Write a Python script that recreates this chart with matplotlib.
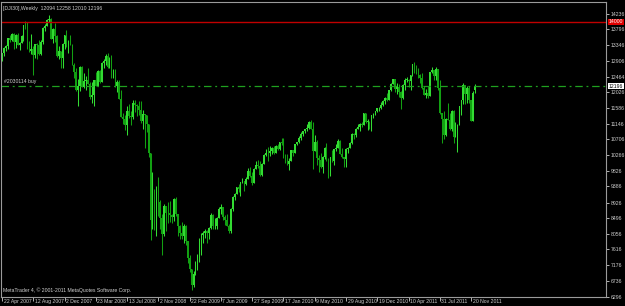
import matplotlib
matplotlib.use("Agg")
import matplotlib.pyplot as plt
import matplotlib.transforms as mtransforms

plt.rcParams["font.family"] = ["Liberation Sans", "DejaVu Sans"]

# weekly DJI30 bars, 22 Apr 2007 .. 4 Dec 2011
week_open = [
    12961, 13120, 13264, 13326, 13556, 13507, 13668, 13424, 13639, 13360,
    13408, 13611, 13907, 13851, 13265, 13182, 13239, 13079, 13379, 13358,
    13113, 13442, 13820, 13896, 14066, 14093, 13522, 13807, 13595, 13042,
    13176, 12981, 13372, 13625, 13339, 13450, 13366,
    12800, 12606, 12099, 12207, 12743, 12183, 12348, 12381, 12266, 11894,
    11951, 12361, 12216, 12610, 12325, 12849, 12892, 13058, 12745, 12986,
    12480, 12638, 12210, 12307, 11843, 11346, 11288, 11100, 11496, 11370,
    11326, 11734, 11659, 11628, 11543, 11220, 11421, 11388, 11143, 10325,
    8451, 8852, 8378, 9325, 8943, 8497, 8046, 8829, 8635, 8629,
    8579, 8515,
    9034, 8599, 8281, 8077, 8000, 8280, 7850, 7366, 7063, 6627,
    6930, 7224, 7278, 7776, 8018, 8083, 8131, 8076, 8212, 8575,
    8268, 8278, 8500, 8764, 8799, 8539, 8438, 8280, 8146, 8743,
    9093, 9172, 9370, 9321, 9505, 9544, 9441, 9605, 9820, 9665,
    9487, 9865, 9995, 9972, 9713, 10023, 10270, 10318, 10310, 10388,
    10471, 10329, 10520,
    10428, 10618, 10610, 10173, 10067, 10012, 10099, 10402, 10325, 10567,
    10625, 10742, 10850, 10927, 10997, 11019, 11204, 11009, 10380, 10620,
    10193, 10137, 9931, 10212, 10450, 10144, 9686, 10198, 10098, 10425,
    10466, 10654, 10303, 10213, 10150, 10448, 10463, 10607, 10860, 10829,
    11006, 11063, 11133, 11118, 11445, 11192, 11204, 11092, 11382, 11410,
    11492, 11573,
    11578, 11675, 11787, 11871, 11824, 12092, 12273, 12391, 12130, 12170,
    12044, 11858, 12221, 12376, 12380, 12342, 12505, 12811, 12638, 12596,
    12512, 12441, 12151, 11952, 12004, 11934, 12582, 12657, 12480, 12681,
    12143, 11445, 11270, 10818, 11285, 11240, 10992, 11510, 10772, 10913,
    11103, 11644, 11809, 12231, 11983, 12153, 11796, 11231, 12094,
]
week_high = [
    13140, 13284, 13362, 13560, 13633, 13692, 13692, 13660, 13700, 13450,
    13640, 13915, 14022, 14000, 13470, 13660, 13320, 13390, 13400, 13490,
    13480, 13870, 13940, 14080, 14198, 14120, 13830, 13980, 13630, 13320,
    13180, 13400, 13640, 13780, 13480, 13630, 13380,
    12860, 12700, 12400, 12770, 12760, 12560, 12470, 12700, 12310, 12320,
    12380, 12600, 12660, 12650, 12890, 12950, 13100, 13136, 13030, 13060,
    12680, 12680, 12360, 12380, 12080, 11440, 11400, 11630, 11700, 11500,
    11810, 11800, 11700, 11790, 11790, 11530, 11430, 11400, 11143, 10330,
    9800, 9300, 9400, 9650, 9000, 8600, 8880, 8830, 8950, 8970,
    8600, 9060,
    9090, 8620, 8290, 8400, 8320, 8310, 7860, 7460, 7070, 7000,
    7280, 7500, 7930, 8080, 8140, 8190, 8150, 8260, 8650, 8600,
    8500, 8530, 8820, 8880, 8800, 8580, 8600, 8330, 8770, 9110,
    9190, 9380, 9440, 9520, 9620, 9550, 9640, 9890, 9920, 9790,
    9890, 10100, 10120, 10090, 10050, 10300, 10440, 10500, 10520, 10500,
    10520, 10550, 10580,
    10640, 10730, 10730, 10290, 10300, 10170, 10420, 10410, 10570, 10640,
    10790, 10900, 10930, 11010, 11150, 11210, 11260, 11200, 10840, 10680,
    10280, 10320, 10250, 10480, 10590, 10170, 10210, 10400, 10440, 10580,
    10720, 10700, 10460, 10220, 10470, 10490, 10640, 10870, 10880, 11030,
    11150, 11170, 11190, 11450, 11450, 11270, 11210, 11390, 11450, 11500,
    11580, 11600,
    11740, 11800, 11900, 12020, 12100, 12280, 12400, 12400, 12290, 12260,
    12060, 12270, 12420, 12450, 12400, 12520, 12820, 12876, 12780, 12700,
    12530, 12570, 12200, 12120, 12190, 12600, 12750, 12660, 12750, 12690,
    12370, 11450, 11500, 11300, 11720, 11450, 11520, 11520, 11200, 11140,
    11650, 11810, 12290, 12240, 12200, 12200, 11800, 12050, 12258,
]
week_low = [
    12900, 13050, 13180, 13250, 13430, 13470, 13250, 13260, 13350, 13200,
    13400, 13470, 13810, 13240, 13150, 13100, 12518, 12980, 12960, 13080,
    13060, 13380, 13750, 13880, 13990, 13510, 13400, 13440, 13030, 12960,
    12720, 12720, 13250, 13300, 13140, 13360, 12790,
    12420, 12050, 11630, 12070, 12180, 12150, 12100, 12260, 11850, 11730,
    11650, 12200, 12200, 12300, 12320, 12710, 12780, 12700, 12700, 12440,
    12420, 12180, 12030, 11830, 11340, 11130, 10960, 10830, 11300, 11100,
    11280, 11480, 11360, 11380, 11160, 11000, 10460, 10900, 10200, 7880,
    8200, 8170, 8000, 8560, 8200, 7450, 7990, 8140, 8350, 8400,
    8370, 8420,
    8560, 8000, 7910, 7920, 7810, 7740, 7250, 6990, 6470, 6550,
    6900, 7040, 7270, 7450, 7800, 7930, 7800, 7900, 8200, 8200,
    8200, 8200, 8500, 8600, 8450, 8300, 8270, 8090, 8080, 8700,
    9010, 9160, 9230, 9130, 9470, 9250, 9430, 9580, 9660, 9430,
    9480, 9860, 9900, 9680, 9680, 10020, 10250, 10100, 10240, 10290,
    10300, 10320, 10420,
    10420, 10560, 10170, 10030, 9990, 9840, 10090, 10230, 10320, 10540,
    10600, 10700, 10800, 10890, 10950, 11000, 10990, 9870, 10370, 9990,
    9780, 9900, 9760, 10150, 10100, 9610, 9680, 10080, 9990, 10390,
    10460, 10290, 10190, 9940, 9940, 10330, 10460, 10580, 10720, 10780,
    10990, 10930, 11040, 11110, 11160, 10980, 10990, 10930, 11310, 11390,
    11460, 11510,
    11560, 11650, 11700, 11780, 11820, 12060, 12250, 12040, 11970, 11900,
    11550, 11850, 12090, 12320, 12180, 12090, 12480, 12560, 12540, 12420,
    12300, 12130, 11940, 11860, 11870, 11930, 12570, 12380, 12380, 12100,
    11430, 10600, 10720, 10800, 11240, 10980, 10930, 10600, 10770, 10360,
    11100, 11400, 11700, 11700, 11730, 11730, 11230, 11230, 12010,
]
week_close = [
    13120, 13264, 13326, 13556, 13507, 13668, 13424, 13639, 13360, 13408,
    13611, 13907, 13851, 13265, 13182, 13239, 13079, 13379, 13358, 13113,
    13442, 13820, 13896, 14066, 14093, 13522, 13807, 13595, 13042, 13176,
    12981, 13372, 13625, 13339, 13450, 13366, 12800,
    12606, 12099, 12207, 12743, 12183, 12348, 12381, 12266, 11894, 11951,
    12361, 12216, 12610, 12325, 12849, 12892, 13058, 12745, 12986, 12480,
    12638, 12210, 12307, 11843, 11346, 11288, 11100, 11496, 11370, 11326,
    11734, 11659, 11628, 11543, 11220, 11421, 11388, 11143, 10325, 8451,
    8852, 8378, 9325, 8943, 8497, 8046, 8829, 8635, 8629, 8579,
    8515, 9034,
    8599, 8281, 8077, 8000, 8280, 7850, 7366, 7063, 6627, 6930,
    7224, 7278, 7776, 8018, 8083, 8131, 8076, 8212, 8575, 8268,
    8278, 8500, 8764, 8799, 8539, 8438, 8280, 8146, 8743, 9093,
    9172, 9370, 9321, 9505, 9544, 9441, 9605, 9820, 9665, 9487,
    9865, 9995, 9972, 9713, 10023, 10270, 10318, 10310, 10388, 10471,
    10329, 10520, 10428,
    10618, 10610, 10173, 10067, 10012, 10099, 10402, 10325, 10567, 10625,
    10742, 10850, 10927, 10997, 11019, 11204, 11009, 10380, 10620, 10193,
    10137, 9931, 10212, 10450, 10144, 9686, 10198, 10098, 10425, 10466,
    10654, 10303, 10213, 10150, 10448, 10463, 10607, 10860, 10829, 11006,
    11063, 11133, 11118, 11445, 11192, 11204, 11092, 11382, 11410, 11492,
    11573, 11578,
    11675, 11787, 11871, 11824, 12092, 12273, 12391, 12130, 12170, 12044,
    11858, 12221, 12376, 12380, 12342, 12505, 12811, 12638, 12596, 12512,
    12441, 12151, 11952, 12004, 11934, 12582, 12657, 12480, 12681, 12143,
    11445, 11270, 10818, 11285, 11240, 10992, 11510, 10772, 10913, 11103,
    11644, 11809, 12231, 11983, 12153, 11796, 11231, 12019, 12196,
]

date_labels = [
    "22 Apr 2007", "12 Aug 2007", "2 Dec 2007", "23 Mar 2008", "13 Jul 2008",
    "2 Nov 2008", "22 Feb 2009", "7 Jun 2009", "27 Sep 2009", "17 Jan 2010",
    "9 May 2010", "29 Aug 2010", "19 Dec 2010", "10 Apr 2011", "31 Jul 2011",
    "20 Nov 2011",
]
price_labels = [14236, 13796, 13346, 12906, 12464, 12026, 11586, 11146, 10706,
                10266, 9826, 9386, 8926, 8496, 8056, 7616, 7176, 6736, 6296]

alert_level = 14000
order_level = 12196
title = "[DJI30],Weekly  12094 12258 12010 12196"
order_text = "#2030114 buy"
copyright_text = "MetaTrader 4, \u00a9 2001-2011 MetaQuotes Software Corp."

BG = "#000000"
UP = "#33dc33"
DOWN = "#12a012"
FG = "#d0d0d0"
FS = 3.7

W, H = 625, 306
fig = plt.figure(figsize=(W / 100, H / 100), dpi=100, facecolor=BG)
ax = fig.add_axes([1 / W, (H - 297) / H, 605 / W, 295 / H], facecolor=BG)

n = len(week_close)
for i in range(n):
    o, h, l, c = week_open[i], week_high[i], week_low[i], week_close[i]
    col = UP if c >= o else DOWN
    ax.vlines(i, l, h, color=col, lw=0.75)
    lo, hi = min(o, c), max(o, c)
    ax.bar(i, max(hi - lo, 15), bottom=lo, width=0.85, color=col, lw=0)

ax.axhline(alert_level, color="#c00000", lw=1.0)
ax.axhline(order_level, color="#1fa01f", lw=0.9, ls=(0, (6, 3, 1.5, 3)))
ax.text(1, order_level + 60, order_text, color=FG, fontsize=FS, ha="left", va="bottom")

ax.set_xlim(-0.5, 309)
ax.set_ylim(6282, 14560)

for s in ax.spines.values():
    s.set_color("#9a9a9a")
    s.set_linewidth(0.8)

# right price scale
ax.yaxis.tick_right()
ax.set_yticks(price_labels)
ax.set_yticklabels([str(p) for p in price_labels])
ax.tick_params(axis="y", colors=FG, labelsize=FS, length=2, width=0.6, pad=1.2)

tr_y = mtransforms.blended_transform_factory(ax.transAxes, ax.transData)
ax.text(1.0045, alert_level, str(alert_level), transform=tr_y, fontsize=FS, color="white",
        ha="left", va="center",
        bbox=dict(boxstyle="square,pad=0.12", fc="#e00000", ec="none"))
ax.text(1.0045, order_level, str(order_level), transform=tr_y, fontsize=FS, color="black",
        ha="left", va="center",
        bbox=dict(boxstyle="square,pad=0.12", fc="white", ec="none"))

# bottom date scale, labels to the right of the tick
ticks = list(range(0, 16 * len(date_labels), 16))
ax.set_xticks(ticks)
ax.set_xticklabels([])
ax.tick_params(axis="x", colors=FG, length=3, width=0.6)
tr_x = mtransforms.blended_transform_factory(ax.transData, ax.transAxes)
for t, lab in zip(ticks, date_labels):
    ax.text(t + 0.8, -0.006, lab, transform=tr_x, fontsize=FS, color=FG,
            ha="left", va="top")

ax.text(0.004, 0.985, title, transform=ax.transAxes, fontsize=FS, color=FG,
        ha="left", va="top")
ax.text(0.003, 0.012, copyright_text, transform=ax.transAxes, fontsize=FS, color=FG,
        ha="left", va="bottom")

fig.savefig("out.png", dpi=100, facecolor=BG)
